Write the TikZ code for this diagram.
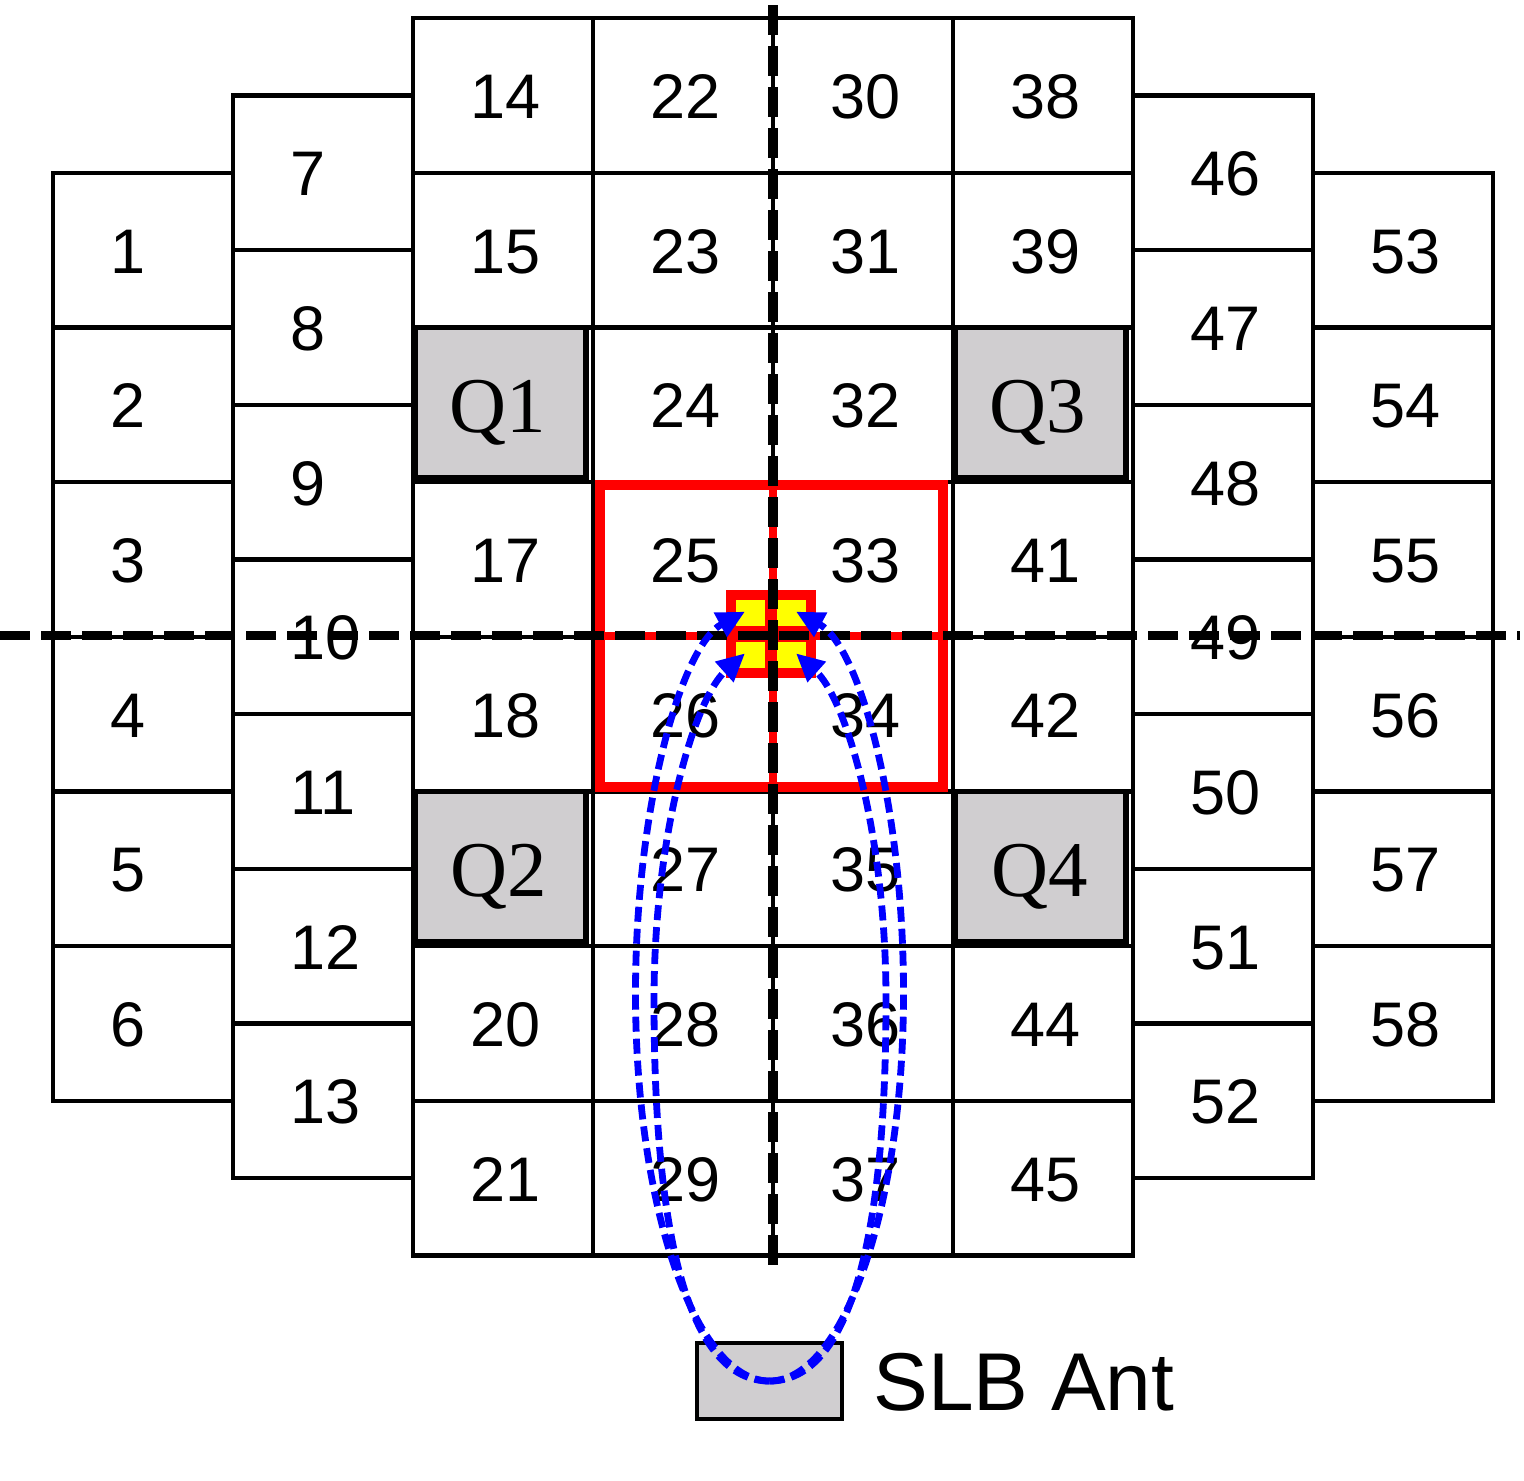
\documentclass[tikz,border=0pt]{standalone}
\usepackage{fontspec}
\setmainfont{Liberation Sans}
\newfontfamily\qfont{Liberation Serif}
\usetikzlibrary{arrows.meta}
\definecolor{qgray}{RGB}{208,206,208}
\definecolor{bl}{RGB}{0,0,255}
\definecolor{rd}{RGB}{255,0,0}
\definecolor{yl}{RGB}{255,255,0}
\begin{document}
\begin{tikzpicture}[x=0.5pt,y=-0.5pt,
  cell/.style={draw=black, line width=2.2pt, fill=white, minimum width=90pt, minimum height=77.35pt, anchor=north west, outer sep=0pt, inner sep=0pt},
  num/.style={anchor=base west, inner sep=0pt, font=\fontsize{31.5}{36}\selectfont},
  qbox/.style={draw=black, line width=2.6pt, fill=qgray, minimum width=85.25pt, minimum height=75pt, anchor=north west, outer sep=0pt, inner sep=0pt},
  qlab/.style={anchor=base, inner sep=0pt, font=\qfont\fontsize{39.5}{44}\selectfont},
  axis/.style={draw=black, line width=4.75pt, dash pattern=on 15pt off 5.5pt},
  redln/.style={draw=rd, line width=4pt},
  beam/.style={draw=bl, line width=3.4pt, dash pattern=on 7.5pt off 3.5pt, -{Triangle[length=14pt,width=13pt]}},
  ysq/.style={fill=yl, minimum width=14.5pt, minimum height=13pt, inner sep=0pt, outer sep=0pt, anchor=north west},
]
\useasboundingbox (0,0) rectangle (1524,1480);
\fill[white] (0,0) rectangle (1524,1480);

% grid cells
\foreach \lft/\tp/\first/\n in {53/172.7/1/6, 233/95.35/7/7, 413/18/14/8, 593/18/22/8, 773/18/30/8, 953/18/38/8, 1133/95.35/46/7, 1313/172.7/53/6}{
  \foreach \r in {1,...,\n}{
    \pgfmathtruncatemacro\lab{\first+\r-1}
    \pgfmathsetmacro\yy{\tp+(\r-1)*154.7}
    \node[cell] (c\lab) at (\lft,\yy) {};
  }
}

% labels
\foreach \r/\lab in {0/1,1/2,2/3,3/4,4/5,5/6}
  \node[num] (t\lab) at ({110},{172.7+\r*154.7+100.35}) {\lab};
\foreach \r/\lab in {0/7,1/8,2/9,3/10,4/11,5/12,6/13}
  \node[num] (t\lab) at ({290},{95.35+\r*154.7+100.35}) {\lab};
\foreach \r/\lab in {0/14,1/15,3/17,4/18,6/20,7/21}
  \node[num] (t\lab) at ({470},{18+\r*154.7+100.35}) {\lab};
\foreach \r/\lab in {0/22,1/23,2/24,3/25,4/26,5/27,6/28,7/29}
  \node[num] (t\lab) at ({650},{18+\r*154.7+100.35}) {\lab};
\foreach \r/\lab in {0/30,1/31,2/32,3/33,4/34,5/35,6/36,7/37}
  \node[num] (t\lab) at ({830},{18+\r*154.7+100.35}) {\lab};
\foreach \r/\lab in {0/38,1/39,3/41,4/42,6/44,7/45}
  \node[num] (t\lab) at ({1010},{18+\r*154.7+100.35}) {\lab};
\foreach \r/\lab in {0/46,1/47,2/48,3/49,4/50,5/51,6/52}
  \node[num] (t\lab) at ({1190},{95.35+\r*154.7+100.35}) {\lab};
\foreach \r/\lab in {0/53,1/54,2/55,3/56,4/57,5/58}
  \node[num] (t\lab) at ({1370},{172.7+\r*154.7+100.35}) {\lab};

% quadrant boxes
\node[qbox] (q1) at (415.5,327.5) {};
\node[qbox] (q2) at (415.5,791.5) {};
\node[qbox] (q3) at (955.5,327.5) {};
\node[qbox] (q4) at (955.5,791.5) {};
\node[qlab] (ql1) at (498,432) {Q1};
\node[qlab] (ql2) at (499,896.5) {Q2};
\node[qlab] (ql3) at (1038,432) {Q3};
\node[qlab] (ql4) at (1040,896.5) {Q4};

% red focus rectangle
\node[draw=rd, line width=5pt, minimum width=171.5pt, minimum height=151pt, anchor=north west, outer sep=0pt, inner sep=0pt] (focus) at (600,485) {};
\draw[redln] (773,485) -- (773,787);
\draw[redln] (600,635.5) -- (943,635.5);

% yellow target
\node[fill=rd, minimum width=45pt, minimum height=44pt, anchor=north west, inner sep=0pt, outer sep=0pt] (sq) at (726,590) {};
\node[ysq] (ya) at (736,600) {};
\node[ysq] (yb) at (777,600) {};
\node[ysq] (yc) at (736,642) {};
\node[ysq] (yd) at (777,642) {};

% axes
\draw[axis] (0,635.5) -- (1520,635.5);
\draw[axis] (773,5) -- (773,1267);

% antenna
\node[draw=black, line width=2pt, fill=qgray, minimum width=72.5pt, minimum height=38pt, inner sep=0pt, outer sep=0pt] (ant) at (769.5,1381) {};
\node[anchor=base west, inner sep=0pt, font=\fontsize{41}{48}\selectfont] (antlbl) at (873,1410) {SLB Ant};

% beams
\coordinate (oL) at (635.5,993);
\coordinate (oR) at (903.5,993);
\coordinate (iL) at (654,1000);
\coordinate (iR) at (886,1000);
\coordinate (tA) at (745,611.6);
\coordinate (tB) at (796,611.6);
\coordinate (tC) at (745,653.3);
\coordinate (tD) at (796,653.3);
\draw[beam] (ant.center) .. controls +(-74,0) and +(0,214.3) .. (oL) .. controls +(0,-187) and +(-63.5,34.2) .. (tA);
\draw[beam] (ant.center) .. controls +(74,0) and +(0,214.3) .. (oR) .. controls +(0,-187) and +(63.5,34.2) .. (tB);
\draw[beam] (ant.center) .. controls +(-80,0) and +(0,240) .. (iL) .. controls +(0,-166.7) and +(-50,45) .. (tC);
\draw[beam] (ant.center) .. controls +(80,0) and +(0,240) .. (iR) .. controls +(0,-166.7) and +(50,45) .. (tD);
\end{tikzpicture}
\end{document}
